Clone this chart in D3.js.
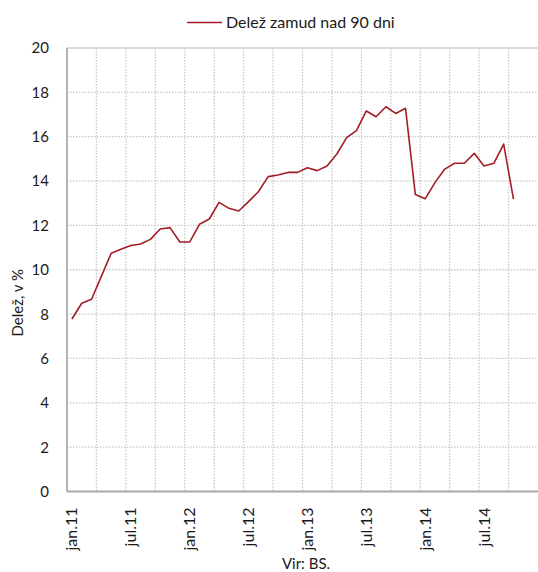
<!DOCTYPE html>
<html lang="sl">
<head>
    <meta charset="UTF-8">
    <title>Delež zamud nad 90 dni</title>
    <script src="https://cdnjs.cloudflare.com/ajax/libs/d3/7.8.5/d3.min.js"></script>
    <style>
        body {
            margin: 0;
            padding: 0;
            background: #fff;
            font-family: Lato, "Noto Sans", sans-serif;
        }
        .grid line {
            stroke: #c8c8c8;
            stroke-width: 1.3px;
            stroke-dasharray: 1.5 1.5;
        }
        .tick-label {
            font-size: 15px;
            fill: #1a1a1a;
        }
        .big {
            font-size: 16px;
        }
    </style>
</head>
<body>
    <div id="chart"></div>
    <script>
        // months Jan 2011 - Dec 2014 (category axis), values exist up to Oct 2014
        const monthNames = ["jan.", "feb.", "mar.", "apr.", "maj.", "jun.", "jul.", "avg.", "sep.", "okt.", "nov.", "dec."];
        const years = ["11", "12", "13", "14"];
        const categories = [];
        years.forEach(y => monthNames.forEach(m => categories.push(m + y)));

        const values = [
            7.78, 8.49, 8.67, 9.7, 10.74, 10.92, 11.09, 11.16, 11.37, 11.84,
            11.9, 11.25, 11.25, 12.05, 12.29, 13.04, 12.77, 12.65, 13.07, 13.52,
            14.2, 14.27, 14.39, 14.39, 14.6, 14.47, 14.68, 15.22, 15.96, 16.27,
            17.16, 16.9, 17.35, 17.05, 17.28, 13.39, 13.2, 13.93, 14.54, 14.8,
            14.8, 15.25, 14.68, 14.8, 15.67, 13.18
        ];

        const yTicks = [0, 2, 4, 6, 8, 10, 12, 14, 16, 18, 20];
        const xLabels = ["jan.11", "jul.11", "jan.12", "jul.12", "jan.13", "jul.13", "jan.14", "jul.14"];
        const seriesName = "Delež zamud nad 90 dni";
        const yTitle = "Delež, v %";
        const source = "Vir: BS.";

        const W = 538, H = 572;
        const margin = { top: 48, right: 0, bottom: 80.5, left: 67 };
        const iw = W - margin.left - margin.right;
        const ih = H - margin.top - margin.bottom;
        const color = "#a31d26";

        const svg = d3.select("#chart").append("svg")
            .attr("width", W)
            .attr("height", H);

        const g = svg.append("g")
            .attr("transform", `translate(${margin.left},${margin.top})`);

        const x = d3.scaleBand().domain(categories).range([0, iw]).padding(0);
        const y = d3.scaleLinear().domain([0, 20]).range([ih, 0]);

        // horizontal grid
        g.append("g").attr("class", "grid")
            .selectAll("line")
            .data(yTicks.filter(t => t > 0 && t < 20))
            .enter().append("line")
            .attr("x1", 0).attr("x2", iw)
            .attr("y1", d => y(d)).attr("y2", d => y(d));

        // vertical grid every 3 months (category boundaries)
        g.append("g").attr("class", "grid")
            .selectAll("line")
            .data(categories.filter((c, i) => i > 0 && i % 3 === 0))
            .enter().append("line")
            .attr("x1", d => x(d)).attr("x2", d => x(d))
            .attr("y1", 0).attr("y2", ih);

        // top border
        g.append("line")
            .attr("x1", 0).attr("x2", iw)
            .attr("y1", 0).attr("y2", 0)
            .attr("stroke", "#cfcfcf").attr("stroke-width", 1.5);

        // axes lines
        g.append("line")
            .attr("x1", 0).attr("x2", 0)
            .attr("y1", 0).attr("y2", ih)
            .attr("stroke", "#b4b4b4").attr("stroke-width", 2);
        g.append("line")
            .attr("x1", 0).attr("x2", iw)
            .attr("y1", ih).attr("y2", ih)
            .attr("stroke", "#a8a8a8").attr("stroke-width", 2);

        // y tick labels
        g.selectAll(".ylab")
            .data(yTicks)
            .enter().append("text")
            .attr("class", "tick-label")
            .attr("x", -18)
            .attr("y", d => y(d))
            .attr("dy", "0.36em")
            .attr("text-anchor", "end")
            .text(d => d);

        // x tick labels, rotated
        g.selectAll(".xlab")
            .data(xLabels)
            .enter().append("text")
            .attr("class", "tick-label big")
            .attr("transform", d => `translate(${x(d) + x.bandwidth() / 2 + 5.5},${ih + 16}) rotate(-90)`)
            .attr("text-anchor", "end")
            .text(d => d);

        // line
        const line = d3.line()
            .x((d, i) => x(categories[i]) + x.bandwidth() / 2)
            .y(d => y(d));

        g.append("path")
            .datum(values)
            .attr("fill", "none")
            .attr("stroke", color)
            .attr("stroke-width", 1.6)
            .attr("stroke-linejoin", "round")
            .attr("d", line);

        // y axis title
        svg.append("text")
            .attr("class", "tick-label")
            .attr("transform", `translate(23,${margin.top + ih / 2 + 33}) rotate(-90)`)
            .attr("text-anchor", "middle")
            .text(yTitle);

        // legend
        svg.append("line")
            .attr("x1", 187).attr("x2", 222)
            .attr("y1", 22.5).attr("y2", 22.5)
            .attr("stroke", color).attr("stroke-width", 1.6);
        svg.append("text")
            .attr("class", "tick-label big")
            .attr("x", 226).attr("y", 28)
            .text(seriesName);

        // source
        svg.append("text")
            .attr("class", "tick-label")
            .attr("x", 306).attr("y", 569)
            .attr("text-anchor", "middle")
            .text(source);
    </script>
</body>
</html>
